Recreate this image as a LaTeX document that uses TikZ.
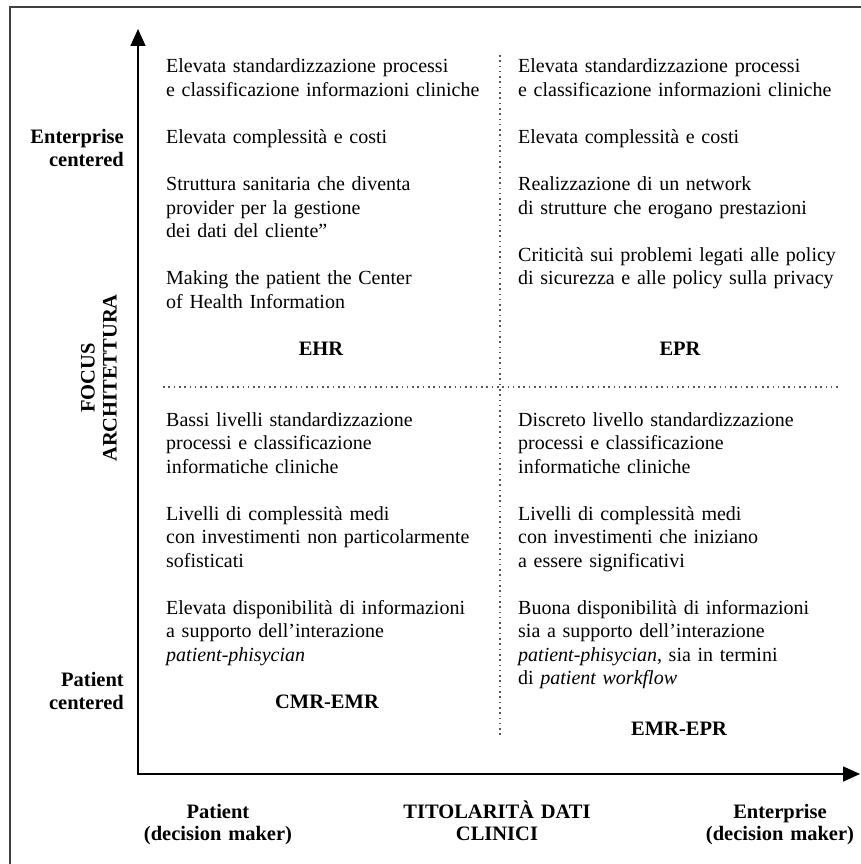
\documentclass[tikz,border=0pt]{standalone}
\usepackage{fontspec}
\setmainfont{Liberation Serif}
\usetikzlibrary{arrows.meta}
\begin{document}
\begin{tikzpicture}[x=1pt,y=-1pt,
  txt/.style={anchor=base west, inner sep=0pt, align=left, text width=335pt, font=\fontsize{20}{23.5}\selectfont},
  quad/.style={anchor=base, inner sep=0pt, font=\bfseries\fontsize{20.5}{23.5}\selectfont},
  side/.style={anchor=base east, inner sep=0pt, align=right, text width=130pt, font=\bfseries\fontsize{20.5}{23}\selectfont},
  bottomlab/.style={anchor=base, inner sep=0pt, align=center, text width=220pt, font=\bfseries\fontsize{20.5}{22.5}\selectfont},
  axis/.style={line width=1.6pt, {Triangle[length=17pt,width=15pt]}-{Triangle[length=17pt,width=15pt]}},
  divider/.style={line width=1.6pt, black!65, dash pattern=on 1.6pt off 3.7pt},
  frame/.style={line width=1.5pt, black!75}]
\useasboundingbox (0,0) rectangle (861,864);
% frame
\coordinate (fbl) at (10,864);
\coordinate (ftl) at (10,7);
\coordinate (ftr) at (861,7);
\draw[frame] (fbl) -- (ftl) -- (ftr);
% axes
\coordinate (o) at (138,774);
\coordinate (ytip) at (138,29);
\coordinate (xtip) at (860,774);
\draw[axis] (ytip) -- (o) -- (xtip);
% dotted dividers
\coordinate (hl) at (163,387);
\coordinate (hr) at (840,387);
\coordinate (vt) at (500,55);
\coordinate (vb) at (500,735);
\draw[divider] (hl) -- (hr);
\draw[divider] (vt) -- (vb);
% top-left quadrant
\node[txt] (tl1) at (166,73) {Elevata standardizzazione processi\\e classificazione informazioni cliniche};
\node[txt] (tl2) at (166,143.5) {Elevata complessità e costi};
\node[txt] (tl3) at (166,190.5) {Struttura sanitaria che diventa\\provider per la gestione\\dei dati del cliente”};
\node[txt] (tl4) at (166,284.5) {Making the patient the Center\\of Health Information};
\node[quad] (ehr) at (321,355) {EHR};
% top-right quadrant
\node[txt] (tr1) at (518,73) {Elevata standardizzazione processi\\e classificazione informazioni cliniche};
\node[txt] (tr2) at (518,143.5) {Elevata complessità e costi};
\node[txt] (tr3) at (518,190.5) {Realizzazione di un network\\di strutture che erogano prestazioni};
\node[txt] (tr4) at (518,261) {Criticità sui problemi legati alle policy\\di sicurezza e alle policy sulla privacy};
\node[quad] (epr) at (680,355) {EPR};
% bottom-left quadrant
\node[txt] (bl1) at (166,426) {Bassi livelli standardizzazione\\processi e classificazione\\informatiche cliniche};
\node[txt] (bl2) at (166,520) {Livelli di complessità medi\\con investimenti non particolarmente\\sofisticati};
\node[txt] (bl3) at (166,614) {Elevata disponibilità di informazioni\\a supporto dell’interazione\\\textit{patient-phisycian}};
\node[quad] (cmr) at (327,708) {CMR-EMR};
% bottom-right quadrant
\node[txt] (br1) at (518,426) {Discreto livello standardizzazione\\processi e classificazione\\informatiche cliniche};
\node[txt] (br2) at (518,520) {Livelli di complessità medi\\con investimenti che iniziano\\a essere significativi};
\node[txt] (br3) at (518,614) {Buona disponibilità di informazioni\\sia a supporto dell’interazione\\\textit{patient-phisycian}, sia in termini\\di \textit{patient workflow}};
\node[quad] (emr) at (679,735) {EMR-EPR};
% side labels
\node[side] (ent) at (124,143) {Enterprise\\centered};
\node[side] (pat) at (124,686) {Patient\\centered};
\node[anchor=center, inner sep=0pt, rotate=90, align=center, font=\bfseries\fontsize{20.5}{22}\selectfont] (focus) at (99,378) {FOCUS\\ARCHITETTURA};
% bottom labels
\node[bottomlab] (pdm) at (218,818) {Patient\\(decision maker)};
\node[bottomlab] (tit) at (497,818) {TITOLARITÀ DATI\\CLINICI};
\node[bottomlab] (edm) at (780,818) {Enterprise\\(decision maker)};
\end{tikzpicture}
\end{document}
